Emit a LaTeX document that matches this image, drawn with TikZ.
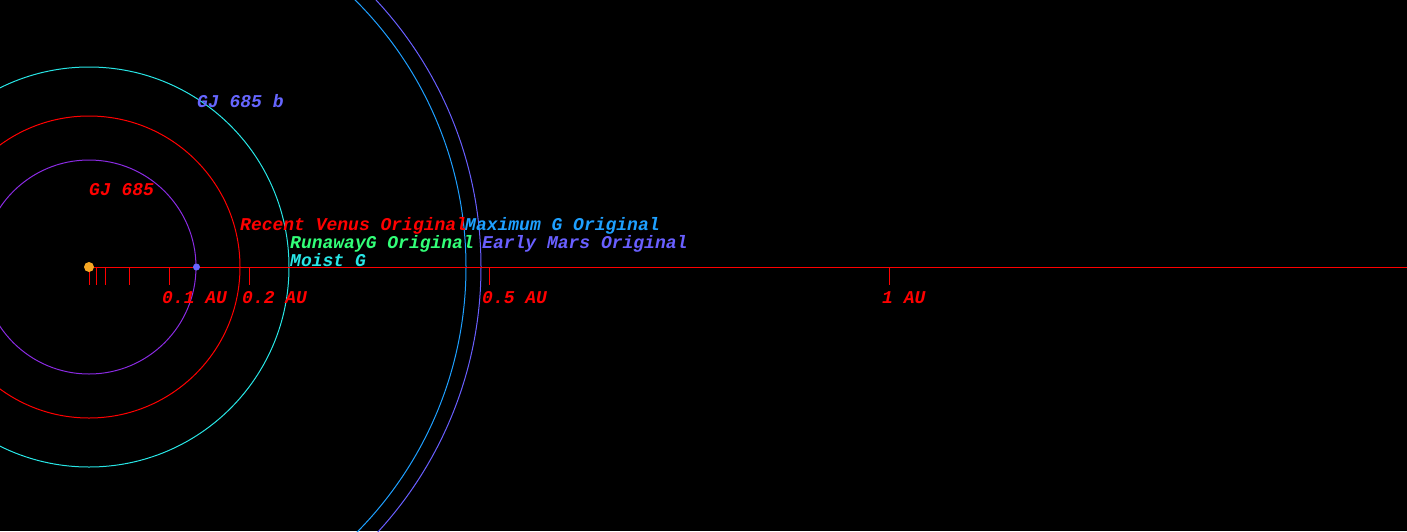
\documentclass[tikz,border=0pt]{standalone}
\usepackage{fontspec}
\setmonofont{Liberation Mono}
\usetikzlibrary{calc}
\definecolor{hzpurple}{RGB}{138,43,226}
\definecolor{hzcyan}{RGB}{40,230,230}
\definecolor{hzblue}{RGB}{30,160,255}
\definecolor{hzslate}{RGB}{105,95,255}
\definecolor{hzgreen}{RGB}{50,255,120}
\definecolor{starorange}{RGB}{245,166,35}
\definecolor{planetblue}{RGB}{102,102,255}
\tikzset{
  lbl/.style={font=\ttfamily\bfseries\itshape\fontsize{18}{18}\selectfont, anchor=base west, inner sep=0pt},
  orbit/.style={line width=1pt}
}

\begin{document}
\begin{tikzpicture}[x=1pt,y=-1pt]
		%%%%% START %%%%%
		\fill[black] (0,0) rectangle (1407,531);
		\useasboundingbox (0,0) rectangle (1407,531);
		\coordinate (star) at (89,267);
		
		\begin{scope}
			\clip (0,0) rectangle (1407,531);
			\draw[orbit, hzpurple] (star) circle (107);
			\draw[orbit, red] (star) circle (151);
			\draw[orbit, hzcyan] (star) circle (200);
			\draw[orbit, hzblue] (star) circle (377);
			\draw[orbit, hzslate] (star) circle (392);
		\end{scope}
		
		% axis with AU ticks (800 px per AU)
		\draw[red, line width=1pt] (star) -- (1407,267);
		\foreach \d in {0,0.01,0.02,0.05,0.1,0.2,0.5,1}
			\draw[red, line width=1pt] ($(star)+(800*\d,0)$) -- ++(0,18);
		\foreach \d/\t in {0.1/0.1 AU, 0.2/0.2 AU, 0.5/0.5 AU, 1/1 AU}
			\node[lbl, red] at ($(star)+(800*\d-7,36)$) {\t};
		
		\fill[starorange] (star) circle (5);
		\node[circle, fill=planetblue, inner sep=0pt, minimum size=7pt] (planet) at (196.5,267) {};
		
		\node[lbl, red] (starname) at (89,195) {GJ 685};
		\node[lbl, planetblue] (planetname) at (197,107) {GJ 685 b};
		
		\node[lbl, red] (venus) at (240,230) {Recent Venus Original};
		\node[lbl, hzblue] (maxg) at (465,230) {Maximum G Original};
		\node[lbl, hzgreen] (runaway) at (290,248) {RunawayG Original};
		\node[lbl, hzslate] (mars) at (482,248) {Early Mars Original};
		\node[lbl, hzcyan] (moist) at (290,266) {Moist G};
		%%%%% END %%%%%
\end{tikzpicture}
\end{document}
